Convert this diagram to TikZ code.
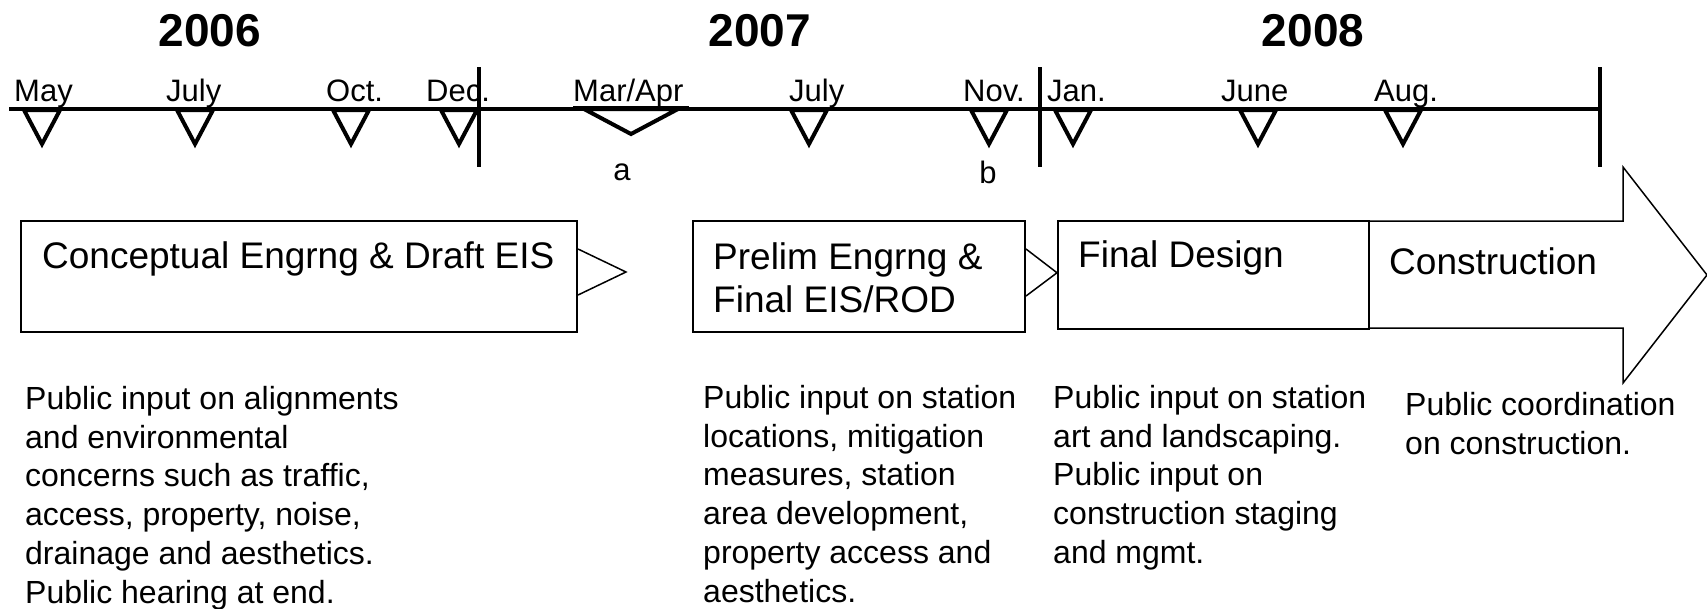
\documentclass[tikz,border=0pt]{standalone}
\usepackage{fontspec}
\setmainfont{Liberation Sans}
\tikzstyle{tick}=[line width=4pt,line join=miter]

\begin{document}
\begin{tikzpicture}[x=1pt,y=-1pt]
\tikzstyle{year}=[inner sep=0pt,anchor=base,font=\fontsize{46}{50}\selectfont\bfseries]
\tikzstyle{month}=[inner sep=0pt,anchor=base west,font=\fontsize{31}{36}\selectfont]
\tikzstyle{phase}=[shape=rectangle,draw=black,fill=white,line width=2pt,anchor=north west,inner sep=0pt]
\tikzstyle{phasetext}=[inner sep=0pt,anchor=north west,align=left,font=\fontsize{37}{43}\selectfont]
\tikzstyle{note}=[inner sep=0pt,anchor=north west,align=left,font=\fontsize{32}{38.8}\selectfont]
\tikzstyle{link}=[line width=1.5pt]
\useasboundingbox (0,0) rectangle (1707,608);
% years
\node[year] (y2006) at (210,46) {2006};
\node[year] (y2007) at (760,46) {2007};
\node[year] (y2008) at (1313,46) {2008};
% time line
\coordinate (tstart) at (9,109);
\coordinate (tend) at (1600,109);
\draw[line width=4pt] (tstart) -- (tend);
\draw[line width=4pt] (479,67) -- (479,167);
\draw[line width=4pt] (1040,67) -- (1040,167);
\draw[line width=4pt] (1600,67) -- (1600,167);
% months
\node[month] (may) at (14,101) {May};
\draw[tick] (24,110) -- (60,110) -- (42,144) -- cycle;
\node[month] (jul06) at (166,101) {July};
\draw[tick] (177,110) -- (213,110) -- (195,144) -- cycle;
\node[month] (oct) at (326,101) {Oct.};
\draw[tick] (333,110) -- (369,110) -- (351,144) -- cycle;
\node[month] (dec) at (426,101) {Dec.};
\draw[tick] (441,110) -- (477,110) -- (459,144) -- cycle;
\node[month] (marapr) at (573,101) {Mar/Apr};
\draw[line width=3pt] (573,107) -- (689,107);
\draw[tick] (584,109) -- (678,109) -- (631,134) -- cycle;
\node[month] (jul07) at (789,101) {July};
\draw[tick] (791,110) -- (827,110) -- (809,144) -- cycle;
\node[month] (nov) at (963,101) {Nov.};
\draw[tick] (971,110) -- (1007,110) -- (989,144) -- cycle;
\node[month] (jan) at (1047,101) {Jan.};
\draw[tick] (1055,110) -- (1091,110) -- (1073,144) -- cycle;
\node[month] (jun) at (1221,101) {June};
\draw[tick] (1240,110) -- (1276,110) -- (1258,144) -- cycle;
\node[month] (aug) at (1374,101) {Aug.};
\draw[tick] (1385,110) -- (1421,110) -- (1403,144) -- cycle;
\node[month,anchor=base] (a) at (622,180) {a};
\node[month,anchor=base] (b) at (988,183) {b};
% phases
\draw[link,fill=white] (1368,221) -- (1623,221) -- (1623,167) -- (1707,275)
    -- (1623,383) -- (1623,328) -- (1368,328);
\node[phase,minimum width=556pt,minimum height=111pt] (concept) at (20,220) {};
\node[phase,minimum width=332pt,minimum height=111pt] (prelim) at (692,220) {};
\node[phase,link,minimum width=311pt,minimum height=108pt] (final) at (1057,220) {};
\draw[link] ([yshift=27.5pt]concept.east) -- ++(48,23) -- ([yshift=-18.5pt]concept.east);
\draw[link] ([yshift=27.5pt]prelim.east) -- ([yshift=2pt]final.west) -- ([yshift=-19.5pt]prelim.east);
\node[phasetext] (concepttext) at (42,241) {Conceptual Engrng \& Draft EIS};
\node[phasetext] (prelimtext) at (713,242) {Prelim Engrng \&\\Final EIS/ROD};
\node[phasetext] (finaltext) at (1078,240) {Final Design};
\node[phasetext] (constext) at (1389,247) {Construction};
% public input
\node[note] (n1) at (25,386) {Public input on alignments\\and environmental\\concerns such as traffic,\\access, property, noise,\\drainage and aesthetics.\\Public hearing at end.};
\node[note] (n2) at (703,385) {Public input on station\\locations, mitigation\\measures, station\\area development,\\property access and\\aesthetics.};
\node[note] (n3) at (1053,385) {Public input on station\\art and landscaping.\\Public input on\\construction staging\\and mgmt.};
\node[note] (n4) at (1405,392) {Public coordination\\on construction.};
\end{tikzpicture}
\end{document}
